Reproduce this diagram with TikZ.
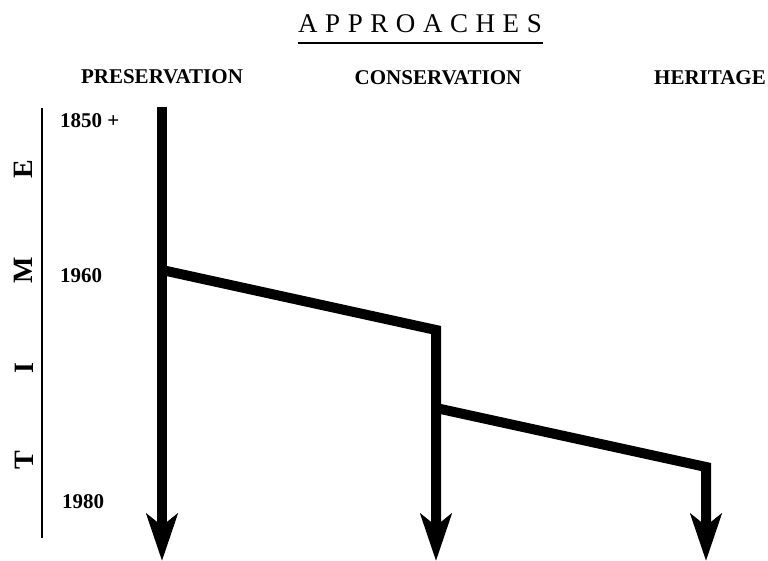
\documentclass[tikz,border=0pt]{standalone}
\usepackage{fontspec}
\setmainfont{Liberation Serif}
\usetikzlibrary{arrows.meta}
\begin{document}
\begin{tikzpicture}[x=1pt,y=-1pt,
  txt/.style={inner sep=0pt,font=\fontsize{21}{21}\selectfont\bfseries},
  timeletter/.style={inner sep=0pt,rotate=90,font=\fontsize{28}{28}\selectfont\bfseries},
  flow/.style={line width=10pt,miter limit=20,-{Stealth[length=47pt,width=31pt,inset=12pt]}},
  trunk/.style={line width=10pt}]
\useasboundingbox (0,0) rectangle (768,561);
% title
\node[inner sep=0pt,anchor=base west,font=\fontsize{27}{27}\selectfont\addfontfeature{LetterSpace=28}] (title) at (298,33) {APPROACHES};
\coordinate (ulA) at (298,43);
\coordinate (ulB) at (543,43);
\draw[line width=2.2pt] (ulA) -- (ulB);
% headings
\node[txt,anchor=base] (pres) at (162,84) {PRESERVATION};
\node[txt,anchor=base] (cons) at (438,85) {CONSERVATION};
\node[txt,anchor=base east] (her) at (766,85) {HERITAGE};
% time axis
\coordinate (axT) at (42,108);
\coordinate (axB) at (42,538);
\draw[line width=1.4pt] (axT) -- (axB);
\node[timeletter] (tE) at (23,169) {E};
\node[timeletter] (tM) at (23,270) {M};
\node[timeletter] (tI) at (24,368) {I};
\node[timeletter] (tT) at (24,460) {T};
% years
\node[txt,anchor=base west] (y1850) at (60,128) {1850 +};
\node[txt,anchor=base west] (y1960) at (60,283) {1960};
\node[txt,anchor=base west] (y1980) at (62,508) {1980};
% flows
\coordinate (p0) at (162,107);
\coordinate (p1) at (162,561);
\coordinate (b1s) at (162,270);
\coordinate (c0) at (436,330);
\coordinate (c1) at (436,561);
\coordinate (b2s) at (436,408);
\coordinate (h0) at (706,467);
\coordinate (h1) at (706,561);
\draw[flow] (p0) -- (p1);
\draw[flow] (b1s) -- (c0) -- (c1);
\draw[flow] (b2s) -- (h0) -- (h1);
\end{tikzpicture}
\end{document}
